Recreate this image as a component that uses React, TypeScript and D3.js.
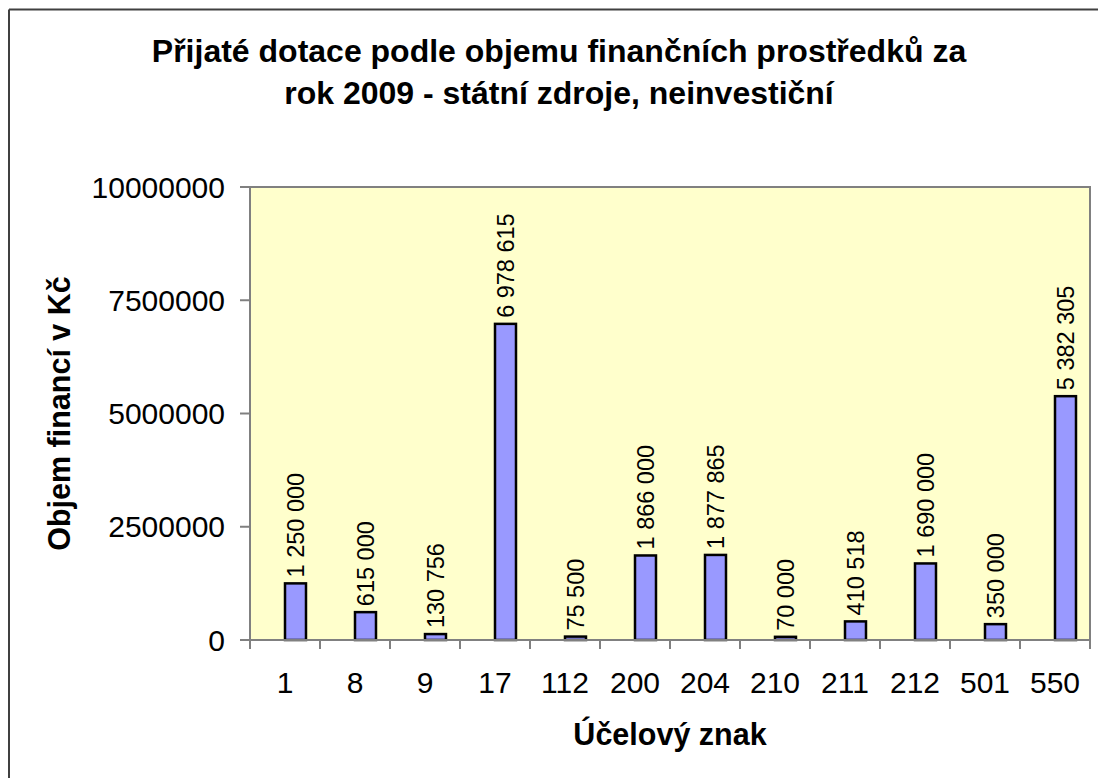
import React from 'react';
import * as d3 from 'd3';

// dotace 2009 – státní zdroje, neinvestiční
const categories = ['1', '8', '9', '17', '112', '200', '204', '210', '211', '212', '501', '550'];
const amounts = [1250000, 615000, 130756, 6978615, 75500, 1866000, 1877865, 70000, 410518, 1690000, 350000, 5382305];
const yTicks = [0, 2500000, 5000000, 7500000, 10000000];
const titleLines = ['Přijaté dotace podle objemu finančních prostředků za', 'rok 2009 - státní zdroje, neinvestiční'];

const width = 1090;
const height = 770;
const margin = { top: 179, right: 8, bottom: 138, left: 242 };
const font = 'Arial, "Liberation Sans", sans-serif';

const csLocale = d3.formatLocale({ decimal: ',', thousands: ' ', grouping: [3], currency: ['', ' Kč'] });
const fmt = csLocale.format(',d');

const App: React.FC = () => {
  const plotW = width - margin.left - margin.right;
  const plotH = height - margin.top - margin.bottom;

  const x = d3.scaleBand<string>()
    .domain(categories)
    .range([margin.left, margin.left + plotW])
    .padding(0);

  // Excel-like cluster: an empty first series, values sit in the second slot
  const slot = d3.scaleBand<string>()
    .domain(['empty', 'value'])
    .range([0, x.bandwidth()])
    .paddingInner(0)
    .paddingOuter(0.667);

  const y = d3.scaleLinear()
    .domain([0, 10000000])
    .range([margin.top + plotH, margin.top]);

  const y0 = y(0);
  const axisColor = '#808080';

  return (
    <svg
      width={width}
      height={height}
      style={{ position: 'fixed', top: 8, left: 8, display: 'block', background: '#fff' }}
    >
      {/* chart frame */}
      <line x1={1} y1={1.5} x2={width} y2={1.5} stroke="#404040" strokeWidth={2} />
      <line x1={1} y1={1.5} x2={1} y2={height} stroke="#404040" strokeWidth={2} />

      {/* title */}
      <text x={551} textAnchor="middle" fontFamily={font} fontWeight="bold" fontSize={32} fill="#000">
        {titleLines.map((t, i) => (
          <tspan key={i} x={551} y={54 + i * 42}>{t}</tspan>
        ))}
      </text>

      {/* plot area */}
      <rect x={margin.left} y={margin.top} width={plotW} height={plotH} fill="#FFFFCC" stroke={axisColor} strokeWidth={2} />

      {/* y axis */}
      {yTicks.map(t => (
        <g key={t}>
          <line x1={margin.left - 10} x2={margin.left} y1={y(t)} y2={y(t)} stroke={axisColor} strokeWidth={2} />
          <text x={margin.left - 25} y={y(t)} dy="0.35em" textAnchor="end" fontFamily={font} fontSize={30} fill="#000">
            {t}
          </text>
        </g>
      ))}

      {/* bars */}
      {categories.map((c, i) => {
        const bx = (x(c) || 0) + (slot('value') || 0);
        const bw = slot.bandwidth();
        const top = y(amounts[i]);
        return (
          <g key={c}>
            <rect x={bx} y={top} width={bw} height={y0 - top} fill="#9999FF" stroke="#000" strokeWidth={2.5} />
            <text
              transform={`translate(${bx + bw / 2},${top - 6}) rotate(-90)`}
              dy="0.35em"
              textAnchor="start"
              fontFamily={font}
              fontSize={23.5}
              fill="#000"
            >
              {fmt(amounts[i])}
            </text>
          </g>
        );
      })}

      {/* x axis */}
      <line x1={margin.left} x2={margin.left + plotW} y1={y0} y2={y0} stroke={axisColor} strokeWidth={2} />
      {categories.map(c => (
        <line key={'t' + c} x1={x(c)} x2={x(c)} y1={y0} y2={y0 + 9} stroke={axisColor} strokeWidth={2} />
      ))}
      <line x1={margin.left + plotW} x2={margin.left + plotW} y1={y0} y2={y0 + 9} stroke={axisColor} strokeWidth={2} />
      {categories.map(c => (
        <text key={'l' + c} x={(x(c) || 0) + x.bandwidth() / 2} y={685} textAnchor="middle" fontFamily={font} fontSize={30} fill="#000">
          {c}
        </text>
      ))}

      {/* axis titles */}
      <text x={margin.left + plotW / 2} y={737} textAnchor="middle" fontFamily={font} fontWeight="bold" fontSize={30.5} fill="#000">
        Účelový znak
      </text>
      <text
        transform={`translate(62,${margin.top + plotH / 2}) rotate(-90)`}
        textAnchor="middle"
        fontFamily={font}
        fontWeight="bold"
        fontSize={30.5}
        fill="#000"
      >
        Objem financí v Kč
      </text>
    </svg>
  );
};

export default App;
